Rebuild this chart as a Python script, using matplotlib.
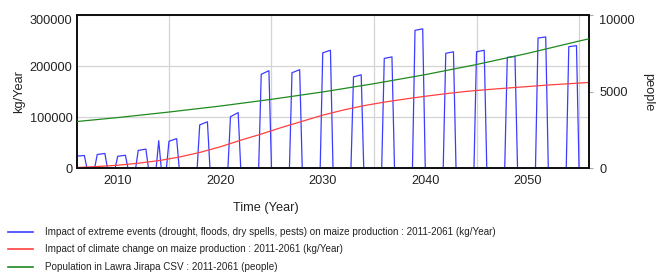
import numpy as np
import matplotlib
matplotlib.use("Agg")
import matplotlib.pyplot as plt
from matplotlib.lines import Line2D

plt.rcParams['font.family'] = ['Liberation Sans', 'DejaVu Sans']

# extreme events pulses (kg/Year): start year, length of plateau, value at start / end of plateau
pulse_start = [2005.75, 2007.75, 2009.75, 2011.75, 2013.75, 2014.75, 2017.75, 2020.75,
               2023.75, 2026.75, 2029.75, 2032.75, 2035.75, 2038.75, 2041.75, 2044.75,
               2047.75, 2050.75, 2053.75]
pulse_len = [0.75, 0.75, 0.75, 0.75, 0.0, 0.75, 0.75, 0.75, 0.75, 0.75, 0.75, 0.75,
             0.75, 0.75, 0.75, 0.75, 0.75, 0.75, 0.75]
pulse_h0 = [24000, 27000, 23500, 35000, 54000, 53000, 85000, 101000, 184000, 187000,
            226000, 179000, 215000, 270000, 225000, 228000, 217000, 255000, 238000]
pulse_h1 = [25000, 29000, 25500, 37500, 54000, 58000, 91000, 109000, 191000, 193000,
            231000, 183000, 218000, 273000, 228000, 231000, 219000, 257000, 240000]

# climate change impact (kg/Year)
red_years = [2006, 2008, 2010, 2012, 2014, 2016, 2018, 2020, 2022, 2024, 2026, 2028, 2030,
             2032, 2034, 2036, 2038, 2040, 2042, 2044, 2046, 2048, 2050, 2052, 2054, 2056]
red_vals = [1500, 3500, 6000, 10000, 15000, 22000, 31000, 42000, 55000, 67000, 80000, 92000,
            104000, 114000, 122500, 129500, 135500, 141000, 146000, 150500, 154000, 157000,
            160000, 163000, 165500, 168000]

# population (people)
pop_years = [2006, 2010, 2015, 2020, 2025, 2030, 2035, 2040, 2045, 2050, 2055, 2056]
pop_vals = [3050, 3310, 3670, 4060, 4500, 4980, 5520, 6110, 6770, 7500, 8300, 8450]

legend_labels = [
    "Impact of extreme events (drought, floods, dry spells, pests) on maize production : 2011-2061 (kg/Year)",
    "Impact of climate change on maize production : 2011-2061 (kg/Year)",
    "Population in Lawra Jirapa CSV : 2011-2061 (people)",
]

# build the pulse line
bx, by = [], []
for t0, ln, h0, h1 in zip(pulse_start, pulse_len, pulse_h0, pulse_h1):
    bx += [t0, t0 + 0.25, t0 + 0.25 + ln, t0 + 0.5 + ln]
    by += [0, h0, h1, 0]
bx.append(2056.5)
by.append(0)

W, H = 656, 273
fig = plt.figure(figsize=(W / 100, H / 100), dpi=100)
ax = fig.add_axes([76.7 / W, 1 - 168.3 / H, (589.3 - 76.7) / W, (168.3 - 15) / H])
ax2 = ax.twinx()

blue, = ax.plot(bx, by, color='#3c3cff', lw=0.9, zorder=3)
red, = ax.plot(red_years, red_vals, color='#ff4040', lw=0.9, zorder=3)
green, = ax2.plot(pop_years, pop_vals, color='#1f8a1f', lw=0.9, zorder=3)

ax.set_xlim(2006, 2056)
ax.set_ylim(0, 300000)
ax2.set_ylim(0, 10000)

fs = 9.2  # tick font size
ax.set_xticks([2010, 2020, 2030, 2040, 2050])
ax.set_xticks(np.arange(2015, 2056, 10), minor=True)
ax.set_yticks([0, 100000, 200000, 300000])
ax.set_yticklabels(['0', '100000', '200000', '300000'])
ax.grid(True, which='minor', axis='x', color='#d4d4d4', lw=0.9)
ax.grid(True, which='major', axis='y', color='#d4d4d4', lw=0.9)
ax.set_axisbelow(True)
ax.tick_params(axis='x', which='both', length=0, pad=5, labelsize=fs, colors='#222222')
ax.tick_params(axis='y', length=0, pad=3, labelsize=fs, colors='#222222')

ax2.set_yticks([0, 5000, 10000])
ax2.set_yticklabels(['0', '5000', '10000'])
ax2.tick_params(axis='y', length=3, pad=4, labelsize=fs, colors='#222222')
ax2.tick_params(axis='y', color='#aaaaaa')

ax.get_yticklabels()[-1].set_va('top')
ax2.get_yticklabels()[-1].set_va('top')

for a in (ax, ax2):
    for s in a.spines.values():
        s.set_color('#111111')
        s.set_linewidth(1.3)

fig.text(19 / W, 1 - 92 / H, 'kg/Year', rotation=90, ha='center', va='center', fontsize=fs, color='#222222')
fig.text(648 / W, 1 - 92 / H, 'people', rotation=270, ha='center', va='center', fontsize=fs, color='#222222')
fig.text(265.5 / W, 1 - 207.7 / H, 'Time (Year)', ha='center', va='center', fontsize=fs, color='#222222')

for line, lab, yy in zip([blue, red, green], legend_labels, [231.7, 249.3, 267.0]):
    fig.add_artist(Line2D([8 / W, 33 / W], [1 - yy / H, 1 - yy / H], color=line.get_color(), lw=1.2))
    fig.text(45 / W, 1 - yy / H, lab, ha='left', va='center', fontsize=7.1, color='#222222')

fig.savefig('out.png', dpi=100)
